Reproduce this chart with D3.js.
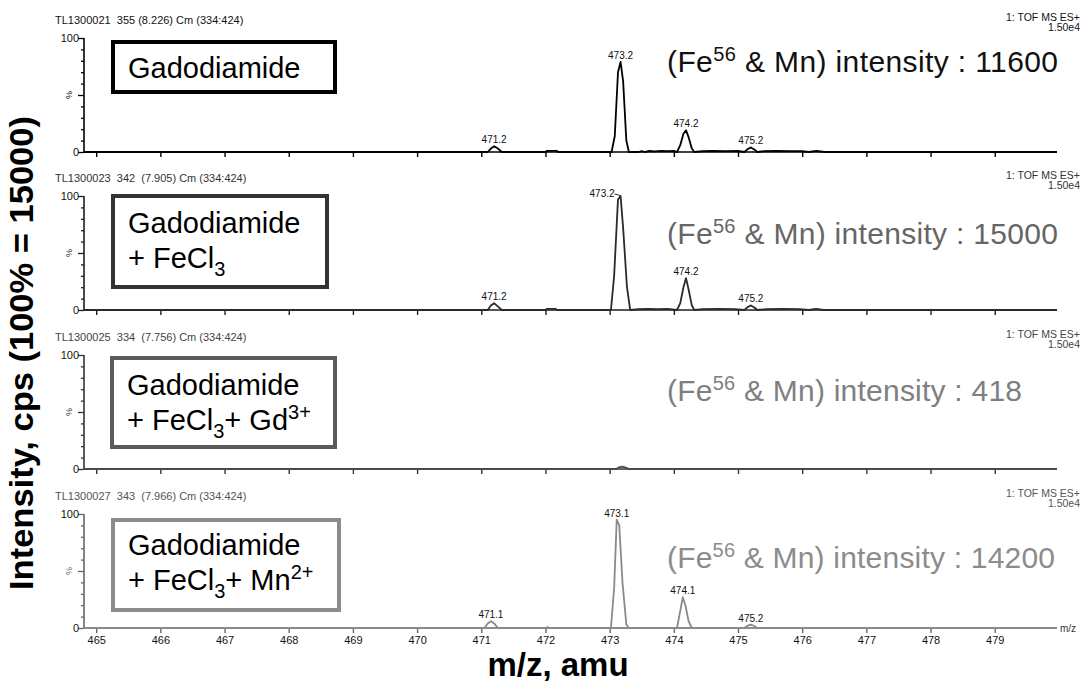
<!DOCTYPE html>
<html>
<head>
<meta charset="utf-8">
<script src="https://cdn.jsdelivr.net/npm/d3@7"></script>
<style>
  html, body { margin: 0; padding: 0; background: #fff; }
  svg { display: block; font-family: "Liberation Sans", Arial, sans-serif; }
</style>
</head>
<body>
<svg id="chart" width="1082" height="683"></svg>
<script>
// ---------------- DATA ----------------
const mzTicks = [465, 466, 467, 468, 469, 470, 471, 472, 473, 474, 475, 476, 477, 478, 479];
const yTicks = [0, 10, 20, 30, 40, 50, 60, 70, 80, 90, 100];
const panelHeaders = [
  "TL1300021\u00a0\u00a0355 (8.226) Cm (334:424)",
  "TL1300023\u00a0\u00a0342\u00a0 (7.905) Cm (334:424)",
  "TL1300025\u00a0\u00a0334\u00a0 (7.756) Cm (334:424)",
  "TL1300027\u00a0\u00a0343\u00a0 (7.966) Cm (334:424)"
];
const instrumentLabel = "1: TOF MS ES+";
const scaleLabel = "1.50e4";
const intensities = [11600, 15000, 418, 14200];

// sample labels: each line a list of [text, style] pieces
const sampleLabels = [
  [[["Gadodiamide", ""]]],
  [[["Gadodiamide", ""]], [["+ FeCl", ""], ["3", "sub"]]],
  [[["Gadodiamide", ""]], [["+ FeCl", ""], ["3", "sub"], ["+ Gd", ""], ["3+", "sup"]]],
  [[["Gadodiamide", ""]], [["+ FeCl", ""], ["3", "sub"], ["+ Mn", ""], ["2+", "sup"]]]
];

// spectra: [m/z, relative intensity %]
const spectrum1 = [
  [464.8,0],[471.1,0],[471.15,3],[471.2,5],[471.26,3],[471.32,0],
  [472.0,0],[472.02,0.9],[472.18,0.9],[472.2,0],
  [473.03,0],[473.08,14],[473.13,70],[473.17,79],[473.21,62],[473.26,10],[473.3,0],
  [473.45,0],[473.5,0.8],[473.55,0],[473.62,0.9],[473.7,0.6],[473.8,0.9],[473.9,0.7],[474.0,0.9],[474.05,0],
  [474.1,6],[474.15,16],[474.19,19],[474.23,13],[474.28,3],[474.32,0],
  [474.45,0.7],[474.6,0.9],[474.8,0.8],[475.0,0.9],[475.1,0],
  [475.15,2.5],[475.2,4],[475.26,2],[475.3,0],
  [475.4,0.8],[475.6,0.9],[475.8,0.7],[476.0,0.8],[476.1,0],[476.22,0.9],[476.35,0],[479.97,0]
];
const spectrum2 = [
  [464.8,0],[471.1,0],[471.15,4],[471.2,6],[471.26,3],[471.32,0],
  [472.0,0],[472.02,0.9],[472.16,0.9],[472.18,0],
  [473.02,0],[473.07,30],[473.13,97],[473.17,100],[473.21,72],[473.27,20],[473.32,0],
  [473.45,0.8],[473.6,0.9],[473.75,0.8],[473.9,0.9],[474.05,0],
  [474.1,6],[474.15,20],[474.19,28],[474.23,18],[474.28,4],[474.32,0],
  [474.45,0.8],[474.7,0.9],[474.95,0.8],[475.1,0],
  [475.15,2.5],[475.2,4],[475.26,2],[475.3,0],
  [475.45,0.8],[475.7,0.9],[475.95,0.8],[476.1,0],[476.22,0.9],[476.33,0],[479.97,0]
];
const spectrum3 = [
  [464.8,0],[473.1,0],[473.15,1.5],[473.2,2],[473.26,1],[473.3,0],[479.97,0]
];
const spectrum4 = [
  [464.8,0],[471.05,0],[471.1,4],[471.15,6],[471.2,4],[471.26,0],
  [472.0,0],[472.03,0.7],[472.06,0],
  [473.02,0],[473.07,35],[473.11,95],[473.15,90],[473.2,40],[473.26,3],[473.3,0],
  [474.05,0],[474.1,15],[474.14,27],[474.18,20],[474.23,6],[474.28,0],
  [475.1,0],[475.15,2],[475.2,3],[475.26,1.5],[475.3,0],[479.97,0]
];
const spectra = [spectrum1, spectrum2, spectrum3, spectrum4];

const peakLabels1 = [[471.2,"471.2"],[473.17,"473.2"],[474.19,"474.2"],[475.2,"475.2"]];
const peakLabels2 = [[471.2,"471.2"],[473.17,"473.2"],[474.19,"474.2"],[475.2,"475.2"]];
const peakLabels3 = [];
const peakLabels4 = [[471.15,"471.1"],[473.11,"473.1"],[474.14,"474.1"],[475.2,"475.2"]];
const peakLabels = [peakLabels1, peakLabels2, peakLabels3, peakLabels4];

const yAxisTitle = "Intensity, cps (100% = 15000)";
const xAxisTitle = "m/z, amu";

// ---------------- STYLE / LAYOUT ----------------
const panelTops = [38, 196, 355, 514];
const panelH = 114;
const axisX0 = 84, axisX1 = 1057;
const lineColors = ["#000", "#2a2a2a", "#4a4a4a", "#8a8a8a"];
const axisColors = ["#000", "#1e1e1e", "#333", "#666"];
const headerColors = ["#111", "#333", "#444", "#555"];
const boxColors = ["#000", "#333", "#5a5a5a", "#8c8c8c"];
const intensityColors = ["#111", "#666", "#7f7f7f", "#8c8c8c"];
const intensityBaselines = [72, 244, 401, 568];
const intensityWidths = [391, 391, 355, 388];
const boxes = [
  {x:113, y:42, w:222, h:50, base:[78]},
  {x:113, y:196, w:214, h:91, base:[233, 268]},
  {x:112, y:358, w:223, h:89, base:[395, 430]},
  {x:113, y:520, w:226, h:90, base:[555, 590]}
];

const svg = d3.select("#chart");
svg.append("rect").attr("width", 1082).attr("height", 683).attr("fill", "#fff");

const x = d3.scaleLinear().domain([464.81, 479.97]).range([axisX0, axisX1]);

spectra.forEach((spec, i) => {
  const top = panelTops[i];
  const y = d3.scaleLinear().domain([0, 100]).range([top + panelH, top]);
  const g = svg.append("g");
  const ac = axisColors[i];

  // header texts
  g.append("text").attr("x", 55).attr("y", top - 14)
    .attr("font-size", 11).attr("fill", headerColors[i]).text(panelHeaders[i]);
  g.append("text").attr("x", 1080).attr("y", top - 17).attr("text-anchor", "end")
    .attr("font-size", 10.5).attr("fill", headerColors[i]).text(instrumentLabel);
  g.append("text").attr("x", 1080).attr("y", top - 7).attr("text-anchor", "end")
    .attr("font-size", 10.5).attr("fill", headerColors[i]).text(scaleLabel);

  // y axis
  const yAxis = d3.axisLeft(y).tickValues(yTicks)
    .tickSize(3).tickFormat(d => (d === 100 || d === 0) ? d : "");
  const ya = g.append("g").attr("transform", `translate(${axisX0},0)`).call(yAxis);
  ya.select(".domain").attr("stroke", ac).attr("stroke-width", 1.6).attr("d", `M0,${top}V${top + panelH}`);
  ya.selectAll(".tick line").attr("stroke", ac).attr("stroke-width", 1.3)
    .attr("x2", d => (d % 50 === 0) ? -6 : -3);
  ya.selectAll(".tick text").attr("font-size", 11).attr("fill", "#111")
    .attr("font-family", "'Liberation Sans', Arial, sans-serif").attr("x", -5);
  g.append("text").attr("transform", `translate(${axisX0 - 12},${y(50)}) rotate(-90)`)
    .attr("text-anchor", "middle").attr("font-size", 9).attr("fill", ac).text("%");

  // x axis
  const isLast = i === spectra.length - 1;
  const xAxis = d3.axisBottom(x).tickValues(mzTicks).tickSize(5)
    .tickFormat(d => isLast ? d : "");
  const xa = g.append("g").attr("transform", `translate(0,${top + panelH})`).call(xAxis);
  xa.select(".domain").attr("stroke", ac).attr("stroke-width", 1.6).attr("d", `M${axisX0},0H${axisX1}`);
  xa.selectAll(".tick line").attr("stroke", ac).attr("stroke-width", 1.4);
  xa.selectAll(".tick text").attr("font-size", 11).attr("fill", "#111").attr("y", 8)
    .attr("font-family", "'Liberation Sans', Arial, sans-serif");
  if (isLast) {
    g.append("text").attr("x", 1060).attr("y", top + panelH + 4).attr("font-size", 10)
      .attr("fill", "#333").text("m/z");
  }

  // spectrum line
  g.append("path").datum(spec)
    .attr("fill", "none").attr("stroke", lineColors[i]).attr("stroke-width", 1.8)
    .attr("stroke-linejoin", "round")
    .attr("d", d3.line().x(d => x(d[0])).y(d => y(d[1])));

  // peak labels
  peakLabels[i].forEach(([mz, lab]) => {
    const near = spec.filter(p => Math.abs(p[0] - mz) < 0.12);
    const apex = d3.max(near, p => p[1]);
    const px = x(mz), py = y(apex);
    if (apex > 97) {
      g.append("text").attr("x", px - 6).attr("y", py + 1).attr("text-anchor", "end")
        .attr("font-size", 10).attr("fill", "#111").text(lab);
      g.append("path").attr("d", `M${px - 6},${py - 2}L${px - 2},${py - 1}L${px},${py}`)
        .attr("stroke", lineColors[i]).attr("stroke-width", 1).attr("fill", "none");
    } else {
      g.append("text").attr("x", px).attr("y", py - 3).attr("text-anchor", "middle")
        .attr("font-size", 10).attr("fill", "#111").text(lab);
    }
  });

  // sample box
  const b = boxes[i];
  g.append("rect").attr("x", b.x).attr("y", b.y).attr("width", b.w).attr("height", b.h)
    .attr("fill", "#fff").attr("stroke", boxColors[i]).attr("stroke-width", 4);
  sampleLabels[i].forEach((line, li) => {
    const t = g.append("text").attr("x", b.x + 15).attr("y", b.base[li])
      .attr("font-size", 29).attr("fill", "#000");
    let shift = 0;
    line.forEach(([txt, st]) => {
      let target = st === "sub" ? 8 : st === "sup" ? -11 : 0;
      const ts = t.append("tspan").attr("dy", target - shift).text(txt);
      if (st) ts.attr("font-size", 20);
      shift = target;
    });
  });

  // intensity annotation
  const it = g.append("text").attr("x", 667).attr("y", intensityBaselines[i])
    .attr("font-size", 30).attr("fill", intensityColors[i])
    .attr("textLength", intensityWidths[i]).attr("lengthAdjust", "spacing");
  it.append("tspan").text("(Fe");
  it.append("tspan").attr("dy", -11).attr("font-size", 20).text("56");
  it.append("tspan").attr("dy", 11).text(" & Mn) intensity : " + intensities[i]);
});

// axis titles
svg.append("text")
  .attr("transform", "translate(33,353) rotate(-90)")
  .attr("text-anchor", "middle").attr("font-size", 33).attr("font-weight", "bold")
  .attr("textLength", 474).attr("lengthAdjust", "spacingAndGlyphs")
  .attr("fill", "#000").text(yAxisTitle);
svg.append("text").attr("x", 558).attr("y", 676).attr("text-anchor", "middle")
  .attr("font-size", 33).attr("font-weight", "bold").attr("fill", "#000").text(xAxisTitle);
</script>
</body>
</html>
